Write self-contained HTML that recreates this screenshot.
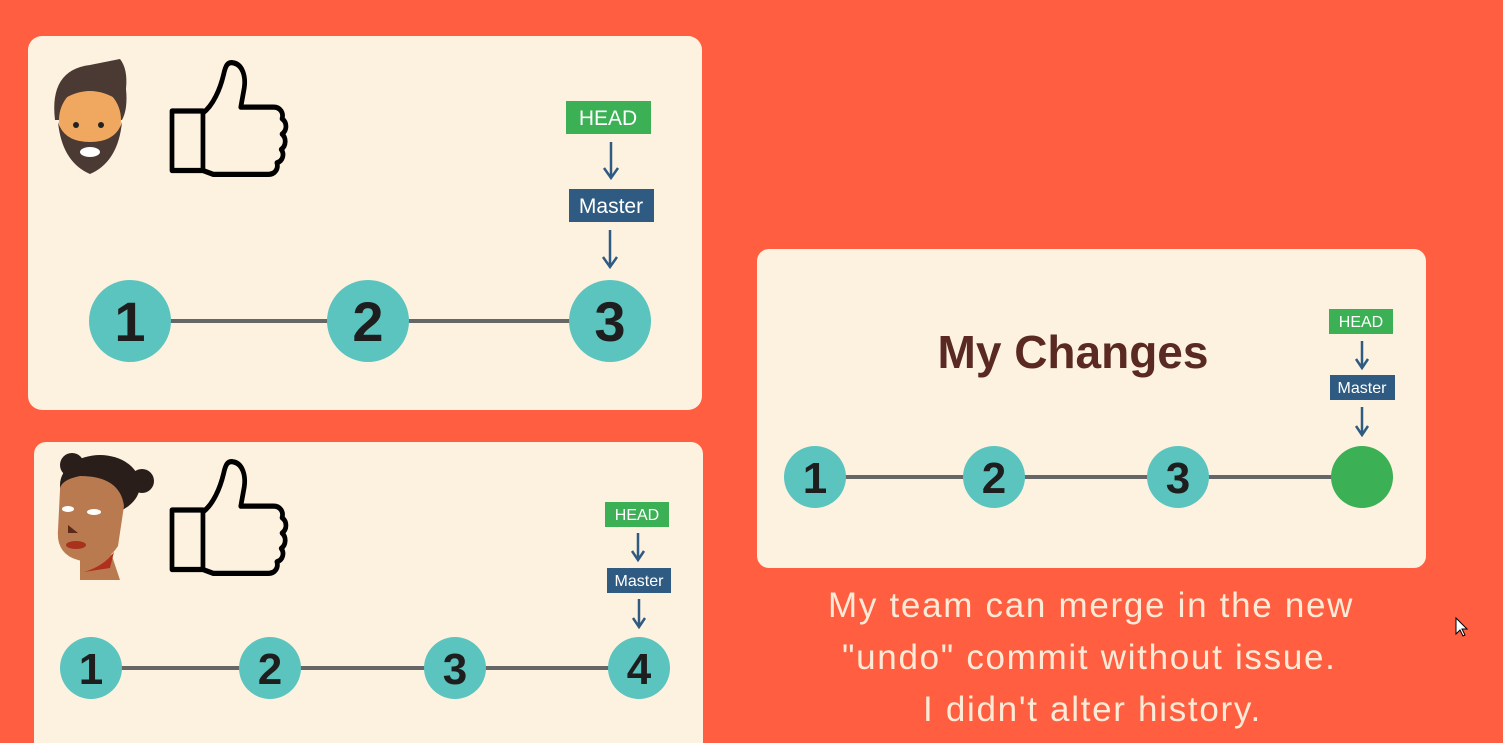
<!DOCTYPE html>
<html><head><style>html,body{margin:0;padding:0;background:#FF5E40}svg{display:block}</style></head><body>
<svg width="1503" height="743" viewBox="0 0 1503 743" xmlns="http://www.w3.org/2000/svg" font-family="Liberation Sans, sans-serif">
<defs>
<g id="thumb"><path d="M0,50 h36 v62 h-36 z M36,52 c12,-8 20,-25 24,-40 c2,-8 4,-14 12,-12 c10,2 14,14 12,26 l-4,20 h38 c8,0 12,6 10,12 c6,4 6,12 0,16 c5,4 5,12 -1,16 c4,5 2,12 -5,14 c2,6 -2,12 -10,12 h-64 l-12,-4 z" fill="none" stroke="#000" stroke-width="5.5" stroke-linejoin="round"/></g>
</defs>
<rect width="1503" height="743" fill="#FF5E40"/>
<rect x="28" y="36" width="674" height="374" rx="14" fill="#FDF2E0"/>
<rect x="34" y="442" width="669" height="320" rx="12" fill="#FDF2E0"/>
<rect x="757" y="249" width="669" height="319" rx="12" fill="#FDF2E0"/>

<g>
<path d="M55,120 q-6,-50 35,-55 q20,-4 30,-6 q8,10 6,30 q2,20 -4,31 z" fill="#4A3A33"/>
<ellipse cx="90" cy="120" rx="31" ry="34" fill="#F0A860"/>
<path d="M62,100 q28,-18 56,0 l4,-10 q-30,-24 -64,0z" fill="#4A3A33"/>
<path d="M58,122 q4,40 32,52 q28,-12 32,-52 q-6,20 -32,20 q-26,0 -32,-20z" fill="#4A3A33"/>
<ellipse cx="90" cy="152" rx="10" ry="5" fill="#fff"/>
<circle cx="76" cy="125" r="3" fill="#222"/><circle cx="101" cy="125" r="3" fill="#222"/>
</g>
<use href="#thumb" transform="translate(172,63) scale(0.86,0.96)"/>
<g>
<circle cx="72" cy="465" r="12" fill="#2A1E1A"/><circle cx="142" cy="481" r="12" fill="#2A1E1A"/>
<ellipse cx="100" cy="485" rx="40" ry="30" fill="#2A1E1A"/>
<path d="M60,490 q0,-10 20,-14 q40,0 44,30 l-6,40 q-14,22 -40,14 q-22,-6 -20,-30 z" fill="#B97A50"/>
<path d="M80,560 l30,-10 l10,30 h-40 z" fill="#B97A50"/>
<path d="M84,572 q20,-6 30,-20 l-4,16 z" fill="#B0301E"/>
<ellipse cx="68" cy="509" rx="6" ry="3" fill="#fff"/><ellipse cx="94" cy="512" rx="7" ry="3" fill="#fff"/>
<path d="M68,525 l10,8 h-10 z" fill="#5A2A1A"/>
<ellipse cx="76" cy="545" rx="10" ry="4" fill="#A8321E"/>
</g>
<use href="#thumb" transform="translate(172,462) scale(0.86,0.96)"/>

<g stroke="#666" stroke-width="4"><line x1="130" y1="321" x2="610" y2="321"/><line x1="91" y1="668" x2="639" y2="668"/><line x1="815" y1="477" x2="1362" y2="477"/></g>
<g fill="#5BC4BF"><circle cx="130" cy="321" r="41"/><circle cx="368" cy="321" r="41"/><circle cx="610" cy="321" r="41"/>
<circle cx="91" cy="668" r="31"/><circle cx="270" cy="668" r="31"/><circle cx="455" cy="668" r="31"/><circle cx="639" cy="668" r="31"/>
<circle cx="815" cy="477" r="31"/><circle cx="994" cy="477" r="31"/><circle cx="1178" cy="477" r="31"/></g>
<circle cx="1362" cy="477" r="31" fill="#3BB054"/>
<g fill="#1E1E1E" font-weight="bold" text-anchor="middle">
<text x="130" y="341" font-size="56">1</text><text x="368" y="341" font-size="56">2</text><text x="610" y="341" font-size="56">3</text>
<text x="91" y="684" font-size="44">1</text><text x="270" y="684" font-size="44">2</text><text x="455" y="684" font-size="44">3</text><text x="639" y="684" font-size="44">4</text>
<text x="815" y="493" font-size="44">1</text><text x="994" y="493" font-size="44">2</text><text x="1178" y="493" font-size="44">3</text>
</g>

<g text-anchor="middle" fill="#fff">
<rect x="566" y="101" width="85" height="33" fill="#3BB054"/><text x="608" y="125" font-size="21">HEAD</text>
<rect x="569" y="189" width="85" height="33" fill="#2F5B82"/><text x="611" y="213" font-size="21">Master</text>
<rect x="605" y="502" width="64" height="25" fill="#3BB054"/><text x="637" y="520" font-size="16">HEAD</text>
<rect x="607" y="568" width="64" height="25" fill="#2F5B82"/><text x="639" y="586" font-size="16">Master</text>
<rect x="1329" y="309" width="64" height="25" fill="#3BB054"/><text x="1361" y="327" font-size="16">HEAD</text>
<rect x="1330" y="375" width="65" height="25" fill="#2F5B82"/><text x="1362" y="393" font-size="16">Master</text>
</g>
<g stroke="#2F5B82" stroke-width="2.5" fill="none">
<path d="M611,142 V178 M604,168 L611,178 L618,168"/>
<path d="M610,230 V267 M603,257 L610,267 L617,257"/>
<path d="M638,533 V560 M632,551 L638,560 L644,551"/>
<path d="M639,599 V627 M633,618 L639,627 L645,618"/>
<path d="M1362,341 V368 M1356,359 L1362,368 L1368,359"/>
<path d="M1362,407 V435 M1356,426 L1362,435 L1368,426"/>
</g>
<text x="1073" y="368" font-size="46" font-weight="bold" fill="#5A2A22" text-anchor="middle">My Changes</text>
<g fill="#FDEBD8" font-size="35" letter-spacing="1.7">
<text x="828" y="617">My team can merge in the new</text>
<text x="842" y="669">"undo" commit without issue.</text>
<text x="923" y="721">I didn't alter history.</text>
</g>
<path d="M1456,618 v16 l4,-4 l3,6 l2,-1 l-3,-6 h5 z" fill="#fff" stroke="#000" stroke-width="1"/>
</svg>
</body></html>
